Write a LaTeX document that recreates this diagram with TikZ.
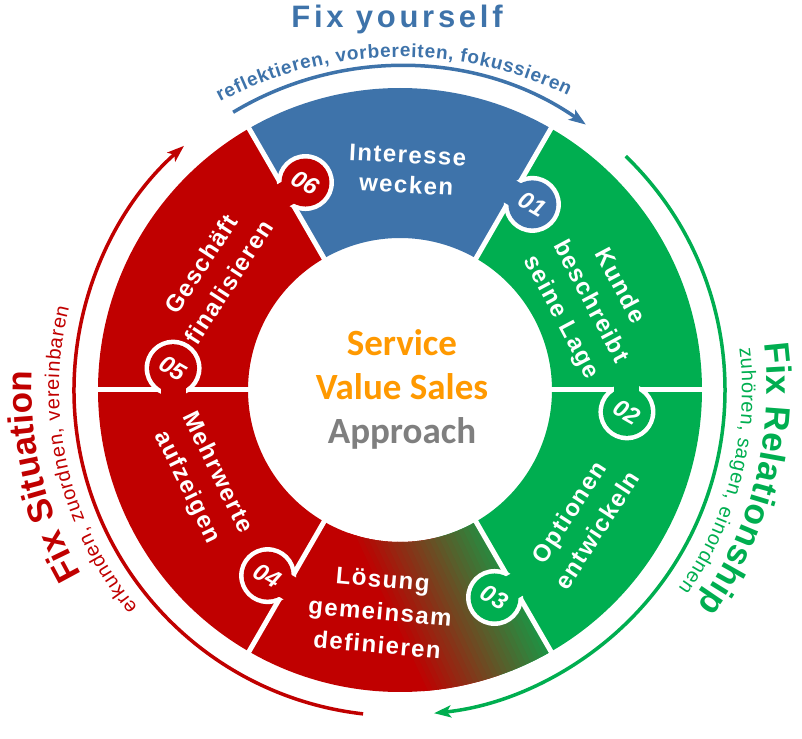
\documentclass[tikz,border=0pt]{standalone}
\usepackage{fontspec}
\setmainfont{Liberation Sans}
\newfontfamily\calib{Carlito}
\newfontfamily\segf{Liberation Sans}[LetterSpace=6]
\newfontfamily\titf{Liberation Sans}[LetterSpace=12]
\usetikzlibrary{decorations.text,arrows.meta}
\definecolor{cblue}{RGB}{62,115,170}
\definecolor{cgreen}{RGB}{0,174,80}
\definecolor{cred}{RGB}{192,0,0}
\definecolor{corange}{RGB}{255,153,0}
\definecolor{cgray}{RGB}{127,127,127}
\begin{document}
\begin{tikzpicture}[x=1pt,y=1pt,
  seglabel/.style={text=white, font=\segf\bfseries\fontsize{24}{33}\selectfont, align=center, inner sep=0pt},
  knobnum/.style={text=white, font=\bfseries\itshape\fontsize{24}{24}\selectfont, rotate=-30, inner sep=0pt},
  sepline/.style={white, line width=5pt},
  cyclearrow/.style={line width=3.5pt, -{Stealth[length=17pt,width=12pt,inset=4pt]}},
  centertext/.style={font=\calib\bfseries\fontsize{37}{44}\selectfont, anchor=base},
]
\useasboundingbox (-400,-348) rectangle (402,390);
% sectors
\foreach \aa/\col in {60/cblue, 0/cgreen, -60/cgreen, 180/cred, 120/cred} {
  \fill[\col] (\aa:152) arc[start angle=\aa, end angle=\aa+60, radius=152]
    -- (\aa+60:302) arc[start angle=\aa+60, end angle=\aa, radius=302] -- cycle;
}
% gradient sector
\begin{scope}
  \clip (-120:152) arc[start angle=-120, end angle=-60, radius=152]
    -- (-60:302) arc[start angle=-60, end angle=-120, radius=302] -- cycle;
  \begin{scope}[shift={(68,-215)}, rotate=25]
    \fill[cred] (-400,-300) rectangle (0,300);
    \fill[cgreen] (0,-300) rectangle (400,300);
    \foreach \i [evaluate=\i as \p using \i*100/30, evaluate=\i as \xx using -75+\i*5] in {0,...,30} {
      \fill[cgreen!\p!cred] (\xx-2.5,-300) rectangle (\xx+3,300);
    }
  \end{scope}
\end{scope}
% separators
\foreach \ba in {0,60,...,300} \draw[sepline] (\ba:149) -- (\ba:305);
% knobs
\foreach \ba/\col/\nn in {60/cblue/01, 0/cgreen/02, -60/cgreen/03, -120/cred/04, 180/cred/05, 120/cred/06} {
  \coordinate (k\nn) at (\ba-5.5:228);
  \fill[white] (k\nn) circle (28.5);
  \fill[\col] (k\nn) circle (24);
  \begin{scope}[shift={(k\nn)}, rotate=\ba+90]
    \fill[\col] (0,-12.5) rectangle (36,12.5);
  \end{scope}
  \node[knobnum] (n\nn) at (k\nn) {\nn};
}
% segment labels
\node[seglabel, rotate=-3, font=\segf\bfseries\fontsize{24}{30}\selectfont] (s6) at (7,220) {Interesse\\wecken};
\node[seglabel, rotate=-62] (s1) at (190,88) {Kunde\\beschreibt\\seine Lage};
\node[seglabel, rotate=57] (s2) at (183,-131) {Optionen\\entwickeln};
\node[seglabel, rotate=-5] (s3) at (-20,-222) {Lösung\\gemeinsam\\definieren};
\node[seglabel, rotate=-64] (s4) at (-198,-90) {Mehrwerte\\aufzeigen};
\node[seglabel, rotate=57] (s5) at (-185,117) {Geschäft\\finalisieren};
% center
\node[centertext, text=corange] (c1) at (2,34) {Service};
\node[centertext, text=corange] (c2) at (2,-10) {Value Sales};
\node[centertext, text=cgray] (c3) at (2,-53) {Approach};
% cycle arrows
\draw[cyclearrow, cblue] (121:324) arc[start angle=121, end angle=55, radius=324];
\draw[cyclearrow, cgreen] (46:325) arc[start angle=46, end angle=-84, radius=325];
\draw[cyclearrow, cred] (263.5:326) arc[start angle=263.5, end angle=131.5, radius=326];
% titles
\node[font=\titf\bfseries\fontsize{31}{31}\selectfont, text=cblue, anchor=base] (t1) at (-3,362) {Fix yourself};
\path[decorate, decoration={text along path, text align=fit to path,
  text={|\bfseries\fontsize{19}{19}\selectfont\color{cblue}|reflektieren, vorbereiten, fokussieren}}]
  ([shift={(118:383)}]0,-50) arc[start angle=118, end angle=64, radius=383];
\path[decorate, decoration={text along path, text align=fit to path,
  text={|\bfseries\fontsize{35}{35}\selectfont\color{cgreen}|Fix Relationship}}]
  (7.3:367) arc[start angle=7.3, end angle=-36, radius=367];
\path[decorate, decoration={text along path, text align=fit to path,
  text={|\fontsize{20}{20}\selectfont\color{cgreen}|zuhören, sagen, einordnen}}]
  (7:342) arc[start angle=7, end angle=-35.5, radius=342];
\path[decorate, decoration={text along path, text align=fit to path,
  text={|\bfseries\fontsize{35}{35}\selectfont\color{cred}|Fix Situation}}]
  (210:368) arc[start angle=210, end angle=177, radius=368];
\path[decorate, decoration={text along path, text align=fit to path,
  text={|\fontsize{20}{20}\selectfont\color{cred}|erkunden, zuordnen, vereinbaren}}]
  (219.7:341) arc[start angle=219.7, end angle=166, radius=341];
\end{tikzpicture}
\end{document}
